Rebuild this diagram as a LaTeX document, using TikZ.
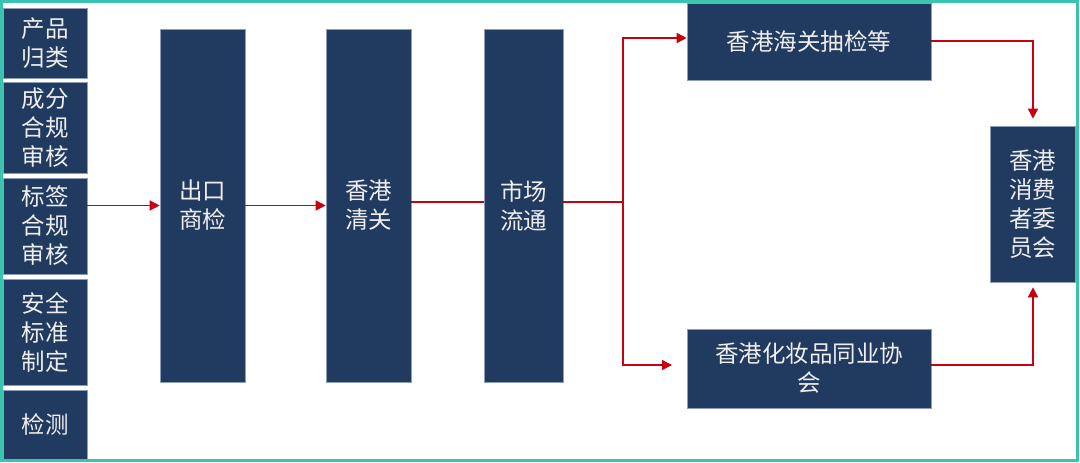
\documentclass[tikz,border=0pt]{standalone}
\usepackage{fontspec}
\newfontfamily\cjk{Noto Sans CJK SC}
\usetikzlibrary{arrows.meta}
\definecolor{navy}{RGB}{33,58,96}
\definecolor{edgeblue}{RGB}{140,158,186}
\definecolor{txt}{RGB}{238,238,238}
\definecolor{arred}{RGB}{200,0,16}
\definecolor{teal}{RGB}{58,196,176}
\tikzset{
  box/.style={rectangle, fill=navy, draw=edgeblue, line width=0.6pt, inner sep=0pt,
    text=txt, align=center, font=\cjk\fontsize{23.5}{29}\selectfont},
  link/.style={draw=arred, line width=1.3pt},
  arr/.style={link, -{Triangle[length=10pt,width=10pt]}},
}
\begin{document}
\begin{tikzpicture}[x=1pt,y=-1pt]
\useasboundingbox (0,0) rectangle (1080,463);
% left column
\node[box, minimum width=84pt, minimum height=70pt]  (b1) at (45,43)    {产品\\归类};
\node[box, minimum width=84pt, minimum height=91pt]  (b2) at (45,127.5) {成分\\合规\\审核};
\node[box, minimum width=84pt, minimum height=96pt]  (b3) at (45,226)   {标签\\合规\\审核};
\node[box, minimum width=84pt, minimum height=106pt] (b4) at (45,332)   {安全\\标准\\制定};
\node[box, minimum width=84pt, minimum height=69pt]  (b5) at (45,424.5) {检测};
% main boxes
\node[box, minimum width=85pt, minimum height=353pt] (m1) at (202.5,205.5) {出口\\商检};
\node[box, minimum width=85pt, minimum height=353pt] (m2) at (368.5,205.5) {香港\\清关};
\node[box, minimum width=79pt, minimum height=353pt] (m3) at (523.5,205.5) {市场\\流通};
% right side
\node[box, minimum width=244pt, minimum height=77pt] (t) at (809,41.5) {香港海关抽检等};
\node[box, minimum width=244pt, minimum height=79pt] (a) at (809,368.5) {香港化妆品同业协\\会};
\node[box, minimum width=85pt, minimum height=156pt] (r) at (1032.5,204) {香港\\消费\\者委\\员会};
% helper coordinates
\coordinate (split) at (623,202);
\coordinate (st) at (623,38);
\coordinate (sb) at (623,365);
\coordinate (sbend) at (672,365);
\coordinate (rt) at (1033,41);
\coordinate (rb) at (1033,365);
% connectors
\draw[arr] (b3.east |- m1.west) -- (m1.west);
\draw[arr] (m1.east) -- (m2.west);
\draw[link] (m2.east |- split) -- (m3.west |- split);
\draw[link] (m3.east |- split) -- (split);
\draw[arr] (split) -- (st) -- (t.west |- st);
\draw[arr] (split) -- (sb) -- (sbend);
\draw[arr, shorten >=7pt] (t.east |- rt) -- (rt) -- (r.north -| rt);
\draw[arr, shorten >=5pt] (a.east |- rb) -- (rb) -- (r.south -| rb);
% frame
\draw[teal, line width=3pt] (1.5,1.5) rectangle (1077,460);
\end{tikzpicture}
\end{document}
